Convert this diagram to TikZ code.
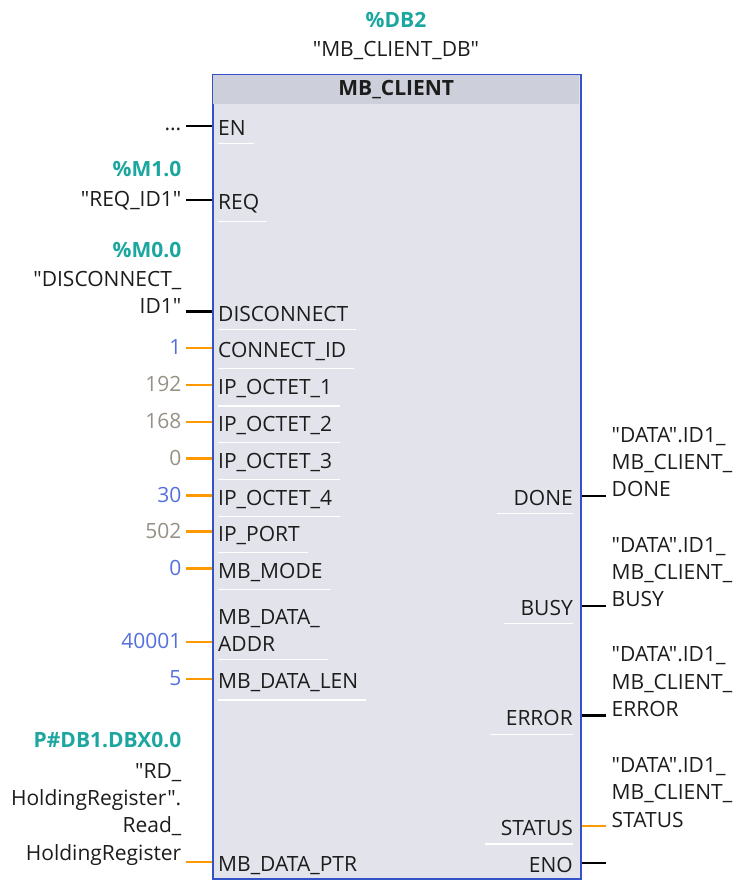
\documentclass[tikz,border=0pt]{standalone}
\usepackage{fontspec}
\setmainfont{Open Sans}[Ligatures=TeXOff]
\usepackage{xcolor}
\usetikzlibrary{calc}
\definecolor{tiateal}{RGB}{28,166,160}
\definecolor{tiablue}{RGB}{84,112,222}
\definecolor{tiagray}{RGB}{150,145,135}
\definecolor{tiaorange}{RGB}{255,153,0}
\definecolor{tiafill}{RGB}{227,228,235}
\definecolor{tiahead}{RGB}{205,208,218}
\definecolor{tiaframe}{RGB}{52,82,200}
\definecolor{tiatext}{RGB}{28,28,28}
\newcommand{\tiaf}{\fontsize{21}{27.3}\selectfont}

\begin{document}
\begin{tikzpicture}[x=1pt, y=-1pt,
  every node/.style={inner sep=0pt, font=\tiaf, text=tiatext},
  pn/.style={anchor=base west, align=left},
  pr/.style={anchor=base east},
  val/.style={anchor=base east, align=right},
  num/.style={val, text=tiablue},
  cst/.style={val, text=tiagray},
  adr/.style={val, font=\tiaf\bfseries, text=tiateal},
  rlbl/.style={anchor=base west, align=left},
  bw/.style={line width=2.4pt, draw=black},
  ow/.style={line width=2.4pt, draw=tiaorange},
  ul/.style={draw=white, line width=1.3pt}]
\useasboundingbox (0,0) rectangle (739,880);
% function block
\node[anchor=north west, minimum width=368pt, minimum height=804pt, fill=tiafill, draw=tiaframe, line width=1.5pt] (fb) at (212,74) {};
\node[anchor=north west, minimum width=366pt, minimum height=29pt, fill=tiahead, font=\tiaf\bfseries] (hd) at (213,75) {MB\_CLIENT};
\node[adr, anchor=base] (dbnr) at (396,28) {\%DB2};
\node[anchor=base] (dbname) at (396,57) {"MB\_CLIENT\_DB"};
% inputs
\node[pn] (en) at (218,135.5) {EN};
\node[pn] (req) at (218,209.5) {REQ};
\node[pn] (disc) at (218,321) {DISCONNECT};
\node[pn] (cid) at (218,357) {CONNECT\_ID};
\node[pn] (ip1) at (218,394.5) {IP\_OCTET\_1};
\node[pn] (ip2) at (218,431) {IP\_OCTET\_2};
\node[pn] (ip3) at (218,468) {IP\_OCTET\_3};
\node[pn] (ip4) at (218,505) {IP\_OCTET\_4};
\node[pn] (port) at (218,541) {IP\_PORT};
\node[pn] (mode) at (218,578) {MB\_MODE};
\node[pn] (addr) at (218,651.5) {MB\_DATA\_\\ADDR};
\node[pn] (len) at (218,688.5) {MB\_DATA\_LEN};
\node[pn] (ptr) at (218,871.5) {MB\_DATA\_PTR};
% outputs
\node[pr] (done) at (573,505) {DONE};
\node[pr] (busy) at (573,615) {BUSY};
\node[pr] (error) at (573,725) {ERROR};
\node[pr] (status) at (573,835.5) {STATUS};
\node[pr] (eno) at (573,872.5) {ENO};
% actual parameters
\node[val] (venb) at (181.5,131) {...};
\node[adr] (vreqa) at (181.5,176) {\%M1.0};
\node[val] (vreq) at (181.5,206.5) {"REQ\_ID1"};
\node[adr] (vdisca) at (181.5,257) {\%M0.0};
\node[val] (vdisc) at (181.5,313.5) {"DISCONNECT\_\\ID1"};
\node[num] (vcid) at (181.5,354) {1};
\node[cst] (vip1) at (181.5,391.5) {192};
\node[cst] (vip2) at (181.5,428) {168};
\node[cst] (vip3) at (181.5,465) {0};
\node[num] (vip4) at (181.5,502) {30};
\node[cst] (vport) at (181.5,538) {502};
\node[num] (vmode) at (181.5,575) {0};
\node[num] (vaddr) at (181.5,648.5) {40001};
\node[num] (vlen) at (181.5,685.5) {5};
\node[adr] (vptra) at (181.5,747) {P\#DB1.DBX0.0};
\node[val] (vptr) at (181.5,860) {"RD\_\\HoldingRegister".\\Read\_\\HoldingRegister};
\node[rlbl] (vdone) at (611.5,496.7) {"DATA".ID1\_\\MB\_CLIENT\_\\DONE};
\node[rlbl] (vbusy) at (611.5,606.7) {"DATA".ID1\_\\MB\_CLIENT\_\\BUSY};
\node[rlbl] (verror) at (611.5,716.5) {"DATA".ID1\_\\MB\_CLIENT\_\\ERROR};
\node[rlbl] (vstatus) at (611.5,827) {"DATA".ID1\_\\MB\_CLIENT\_\\STATUS};
% wires
\coordinate (wen) at (186,126); \coordinate (wreq) at (186,200);
\coordinate (wdisc) at (186,311.5); \coordinate (wcid) at (186,347.7);
\coordinate (wip1) at (186,385); \coordinate (wip2) at (186,421.7);
\coordinate (wip3) at (186,458.3); \coordinate (wip4) at (186,495.5);
\coordinate (wport) at (186,531.5); \coordinate (wmode) at (186,568.3);
\coordinate (waddr) at (186,642); \coordinate (wlen) at (186,679);
\coordinate (wptr) at (186,862);
\coordinate (wdone) at (606,495.7); \coordinate (wbusy) at (606,605.7);
\coordinate (werror) at (606,715.5); \coordinate (wstatus) at (606,826);
\coordinate (weno) at (606,863);
\foreach \w/\s in {wen/bw,wreq/bw,wdisc/bw,wcid/ow,wip1/ow,wip2/ow,wip3/ow,wip4/ow,wport/ow,wmode/ow,waddr/ow,wlen/ow,wptr/ow}
  \draw[\s] (\w) -- (\w -| fb.west);
\foreach \w/\s in {wdone/bw,wbusy/bw,werror/bw,wstatus/ow,weno/bw}
  \draw[\s] (\w) -- (\w -| fb.east);
% pin underlines
\foreach \n in {en,req,disc,cid,ip1,ip2,ip3,ip4,port,mode,addr,len}
  \draw[ul] ($(\n.south west)+(0,8)$) -- ($(\n.south east)+(8,8)$);
\foreach \n in {done,busy,status}
  \draw[ul] ($(\n.south west)+(-16,8)$) -- ($(\n.south east)+(0,8)$);
\draw[ul] ($(error.south west)+(-16,9)$) -- ($(error.south east)+(0,9)$);
\end{tikzpicture}
\end{document}
